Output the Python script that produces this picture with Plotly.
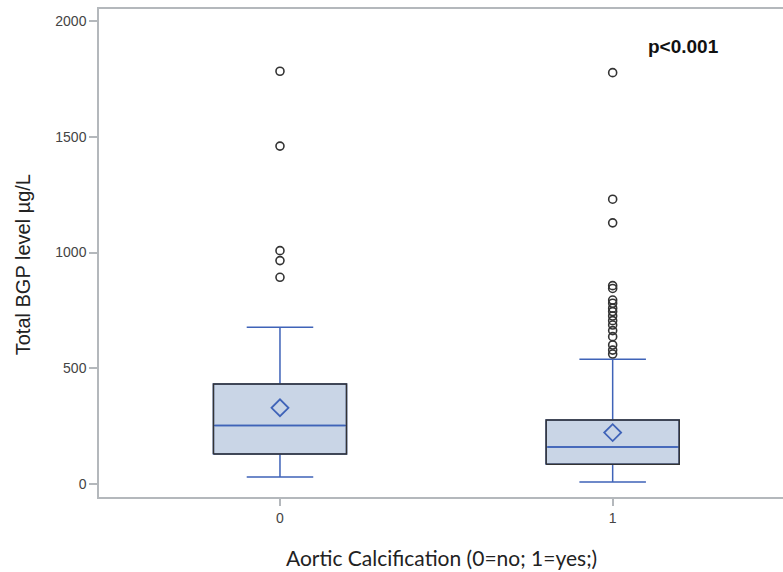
import plotly.graph_objects as go

# ---- data ----
categories = [0, 1]
tick_labels = ["0", "1"]
y_ticks = [0, 500, 1000, 1500, 2000]
q1 = [131, 86]
median = [254, 161]
q3 = [433, 277]
lower_whisker = [31, 10]
upper_whisker = [678, 539]
means = [330, 223]
outliers_0 = [1782, 1459, 1008, 965, 893]
outliers_1 = [1776, 1230, 1128, 857, 845, 795, 781, 760, 745, 726, 706, 687, 663, 637, 601, 579, 562]

BOX_W = 0.4
blue = "#3f63b8"
fill = "#c9d5e6"
outline = "#333333"

fig = go.Figure()

for i, c in enumerate(categories):
    fig.add_trace(go.Box(
        x=[c], q1=[q1[i]], median=[median[i]], q3=[q3[i]],
        lowerfence=[lower_whisker[i]], upperfence=[upper_whisker[i]],
        width=BOX_W, whiskerwidth=0.5, boxpoints=False,
        fillcolor=fill, line=dict(color=blue, width=1.5),
        showlegend=False, hoverinfo="skip"))
    # dark box outline
    fig.add_trace(go.Scatter(
        x=[c - BOX_W / 2, c + BOX_W / 2, c + BOX_W / 2, c - BOX_W / 2, c - BOX_W / 2],
        y=[q1[i], q1[i], q3[i], q3[i], q1[i]],
        mode="lines", line=dict(color=outline, width=1.5),
        showlegend=False, hoverinfo="skip"))
    # median redrawn on top in blue
    fig.add_trace(go.Scatter(
        x=[c - BOX_W / 2 + 0.005, c + BOX_W / 2 - 0.005],
        y=[median[i], median[i]],
        mode="lines", line=dict(color=blue, width=1.5),
        showlegend=False, hoverinfo="skip"))

fig.add_trace(go.Scatter(
    x=categories, y=means, mode="markers",
    marker=dict(symbol="diamond-open", size=13, color=blue, line=dict(width=1.8, color=blue)),
    showlegend=False))

for c, outs in zip(categories, [outliers_0, outliers_1]):
    fig.add_trace(go.Scatter(
        x=[c] * len(outs), y=outs, mode="markers",
        marker=dict(symbol="circle-open", size=8, color="#333333", line=dict(width=1.6, color="#333333")),
        showlegend=False))

axis_line = "#b4b8bc"
fig.update_layout(
    width=783, height=572,
    margin=dict(l=99, r=0, t=9, b=75, autoexpand=False),
    paper_bgcolor="white", plot_bgcolor="white",
    font=dict(family="Liberation Sans, Arial, sans-serif", color="#333333"),
    xaxis=dict(
        range=[-0.544, 1.512], tickvals=categories, ticktext=tick_labels,
        showgrid=False, zeroline=False, showline=True, linecolor=axis_line, linewidth=1.5,
        mirror=True, ticks="outside", ticklen=7, tickcolor=axis_line, tickwidth=1.5,
        tickfont=dict(size=14, color="#444444")),
    yaxis=dict(
        range=[-54.8, 2050.5], tickvals=y_ticks,
        showgrid=False, zeroline=False, showline=True, linecolor=axis_line, linewidth=1.5,
        ticks="outside", ticklen=8, tickcolor=axis_line, tickwidth=1.5,
        tickfont=dict(size=14, color="#444444")),
    annotations=[
        dict(text="Aortic Calcification (0=no; 1=yes;)", xref="paper", yref="paper",
             x=0.5, y=-0.123, xanchor="center", yanchor="middle", showarrow=False,
             font=dict(family="Lato, sans-serif", size=21, color="#222222")),
        dict(text="Total BGP level µg/L", xref="paper", yref="paper",
             x=-0.111, y=0.475, xanchor="center", yanchor="middle", textangle=-90,
             showarrow=False, font=dict(family="Liberation Sans, Arial, sans-serif", size=20, color="#222222")),
        dict(text="<b>p<0.001</b>", xref="paper", yref="paper",
             x=0.855, y=0.923, xanchor="center", yanchor="middle", showarrow=False,
             font=dict(family="Liberation Sans, Arial, sans-serif", size=19, color="#111111")),
    ],
)

fig.write_html("out.html", config={"displayModeBar": False},
               post_script="document.body.style.margin='0';")
